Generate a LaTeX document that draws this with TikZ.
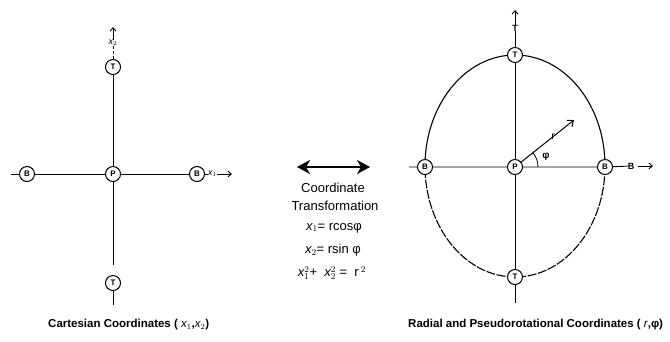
\documentclass[tikz,border=0pt]{standalone}
\usepackage{fontspec}
\setmainfont{Liberation Sans}
\setmathrm{Liberation Sans}
\usetikzlibrary{arrows.meta}
\pgfdeclarelayer{bg}
\pgfsetlayers{bg,main}
\begin{document}
\begin{tikzpicture}[x=1pt,y=-1pt,
  pnode/.style={circle,draw,line width=1pt,fill=white,inner sep=0pt,minimum size=15pt,font=\fontsize{8}{8}\selectfont\bfseries},
  axis/.style={line width=0.9pt},
  lbl/.style={inner sep=0pt,font=\fontsize{9}{9}\selectfont\bfseries},
  smallarrow/.style={line width=0.9pt,-{Straight Barb[length=3.5pt,width=6pt]}},
  midtext/.style={inner sep=0pt,font=\fontsize{13}{13}\selectfont},
  captext/.style={inner sep=0pt,anchor=west,font=\fontsize{11.5}{11.5}\selectfont\bfseries}]
\useasboundingbox (0,0) rectangle (670,341);

% ---------- left: Cartesian ----------
\node[pnode] (P1) at (113,174) {P};
\node[pnode] (T1) at (113,67) {T};
\node[pnode] (T1b) at (113,283) {T};
\node[pnode] (B1l) at (27,174) {B};
\node[pnode] (B1r) at (197,174) {B};
\coordinate (L1gap) at (113,265);
\coordinate (L1end) at (113,305);
\coordinate (L1stub) at (11,174);
\node[lbl] (x2) at (113,43) {$\mathit{x}_2$};
\coordinate (x2tip) at (113,27);
\node[lbl,anchor=west] (x1) at (208,174) {$\mathit{x}_1$};
\coordinate (x1tip) at (232,174);

\draw[axis] (T1) -- (P1) -- (L1gap);
\draw[axis] (T1b) -- (L1end);
\draw[axis] (L1stub) -- (B1l) -- (P1) -- (B1r) -- (x1);
\draw[axis,dash pattern=on 3pt off 2pt] (T1) -- (x2);
\draw[smallarrow] (x2) -- (x2tip);
\draw[smallarrow] (x1) -- (x1tip);

% ---------- middle ----------
\coordinate (DA1) at (297,167);
\coordinate (DA2) at (370,167);
\draw[line width=2.6pt,{Stealth[length=13pt,width=14pt,inset=4pt]}-{Stealth[length=13pt,width=14pt,inset=4pt]}] (DA1) -- (DA2);
\node[midtext] (m1) at (333,188) {Coordinate};
\node[midtext] (m2) at (335,206) {Transformation};
\node[midtext] (m3) at (334,228) {$\mathit{x}_1$= rcosφ};
\node[midtext] (m4) at (333,250) {$\mathit{x}_2$= rsin φ};
\node[midtext] (m5) at (332,273) {$\mathit{x}_1^2$+\ \ $\mathit{x}_2^2$ = \ r\,$^2$};

% ---------- right: radial ----------
\node[pnode] (P2) at (515,167) {P};
\node[pnode] (T2) at (515,55) {T};
\node[pnode] (T2b) at (515,277) {T};
\node[pnode] (B2l) at (425,167) {B};
\node[pnode] (B2r) at (605,167) {B};
\node[lbl] (Tlab) at (515,28) {T};
\coordinate (Ttip) at (515,10);
\node[lbl] (Blab) at (631,166) {B};
\coordinate (Btip) at (653,166);
\coordinate (Bstart) at (638,166);
\coordinate (L2stub) at (409,167);
\coordinate (L2end) at (515,303);
\coordinate (rtip) at (574,120);
\node[lbl,font=\fontsize{10.5}{10.5}\selectfont] (rlab) at (553,137) {r};
\node[lbl,font=\fontsize{10}{10}\selectfont\bfseries] (philab) at (546,157) {φ};

\begin{pgfonlayer}{bg}
  \draw[line width=1.1pt] (605,166) arc[start angle=0,end angle=-180,x radius=90,y radius=111];
  \draw[line width=1.1pt,dash pattern=on 9pt off 1.5pt] (605,166) arc[start angle=0,end angle=180,x radius=90,y radius=111];
\end{pgfonlayer}

\draw[axis] (T2) -- (P2) -- (T2b) -- (L2end);
\draw[axis] (L2stub) -- (B2l) -- (P2) -- (B2r) -- (Blab);
\draw[axis] (T2) -- (Tlab);
\draw[smallarrow] (Tlab) -- (Ttip);
\draw[smallarrow] (Bstart) -- (Btip);
\draw[line width=1pt,-{Straight Barb[length=5pt,width=8pt]}] (P2) -- (rtip);
\draw[line width=0.8pt] ([shift={(23,0)}]P2.center) arc[start angle=0,end angle=-39,radius=23];

% ---------- captions ----------
\node[captext] (cap1) at (48,325) {Cartesian Coordinates ( $\mathit{x}_1$,$\mathit{x}_2$)};
\node[captext] (cap2) at (408,325) {Radial and Pseudorotational Coordinates ( $\mathit{r}$,φ)};
\end{tikzpicture}
\end{document}
